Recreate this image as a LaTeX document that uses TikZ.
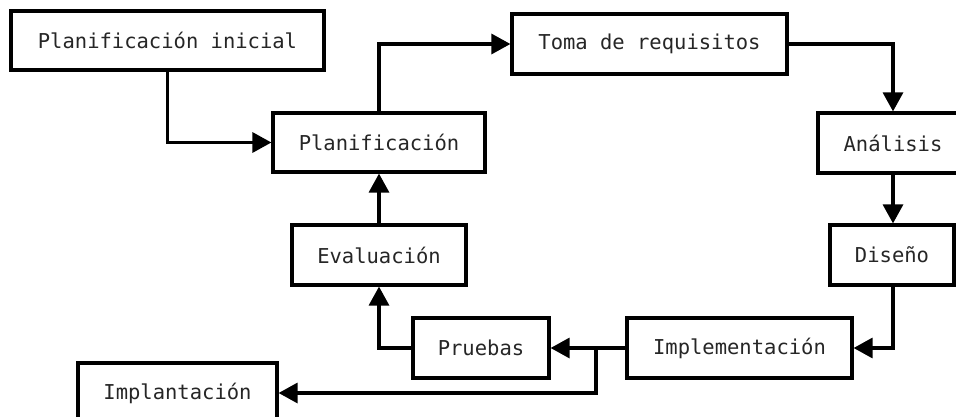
\documentclass[tikz,border=0pt]{standalone}
\usepackage{fontspec}
\setmonofont{DejaVu Sans Mono}
\usetikzlibrary{arrows.meta}
\tikzset{
  box/.style={draw=black, line width=3.2pt, fill=white, minimum height=60pt, inner sep=0pt,
    text=black!85, font=\ttfamily\fontsize{20.5}{24}\selectfont},
  conn/.style={line width=3.2pt, -{Triangle[length=19pt,width=20pt]}},
  plain/.style={line width=3.2pt}
}
\begin{document}
\begin{tikzpicture}[x=1pt,y=-1pt]
\useasboundingbox (0,0) rectangle (956,417);
\clip (0,0) rectangle (956,417);
\fill[white] (0,0) rectangle (956,417);
\node[box, minimum width=313pt, minimum height=59pt] (pi) at (167.5,40.5) {Planificación inicial};
\node[box, minimum width=212pt, minimum height=59pt] (pl) at (379,142.5) {Planificación};
\node[box, minimum width=275pt] (toma) at (649.5,44) {Toma de requisitos};
\node[box, minimum width=150pt] (an) at (893,143) {Análisis};
\node[box, minimum width=124pt] (dis) at (892,255) {Diseño};
\node[box, minimum width=225pt] (impl) at (739.5,348) {Implementación};
\node[box, minimum width=136pt] (pru) at (481,348) {Pruebas};
\node[box, minimum width=174pt] (ev) at (379,255) {Evaluación};
\node[box, minimum width=199pt] (imp) at (177.5,393) {Implantación};
\coordinate (br) at (596,348);
\draw[conn] (pi.south) |- (pl.west);
\draw[conn] (pl.north) |- (toma.west);
\draw[conn] (toma.east) -| (an.north);
\draw[conn] (an.south) -- (an.south |- dis.north);
\draw[conn] (an.south |- dis.south) |- (impl.east);
\draw[conn] (impl.west) -- (pru.east);
\draw[conn] (br) |- (imp.east);
\draw[conn] (pru.west) -| (ev.south);
\draw[conn] (ev.north) -- (pl.south);
\end{tikzpicture}
\end{document}
